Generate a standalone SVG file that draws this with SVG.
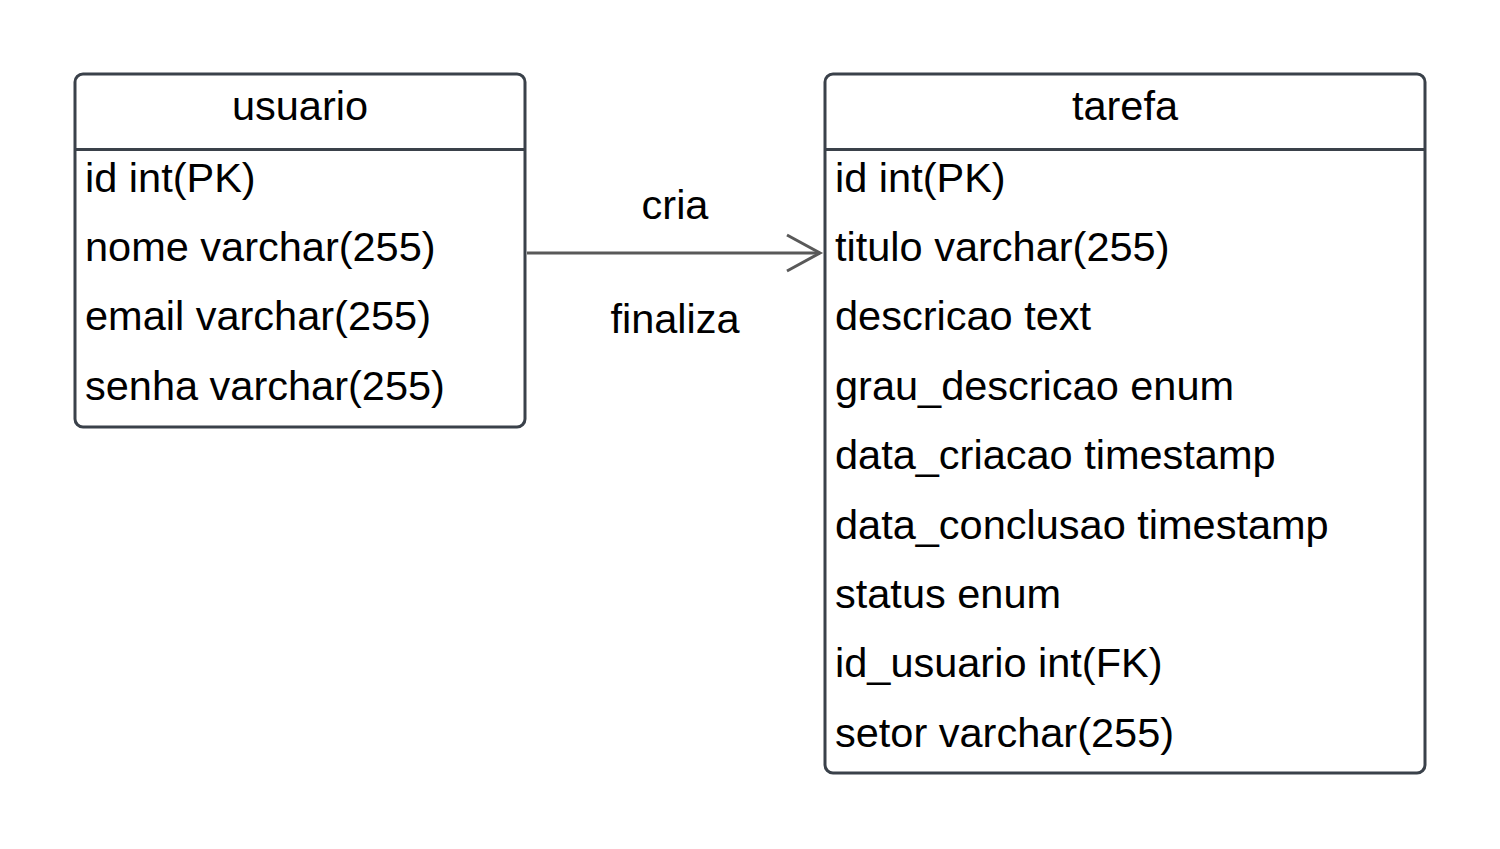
<svg xmlns="http://www.w3.org/2000/svg" width="1500" height="849" viewBox="0 0 1500 849">
<style>
.box{fill:#ffffff;stroke:#3a414a;stroke-width:3}
.div{stroke:#3a414a;stroke-width:3}
.t{font-family:"Liberation Sans",Arial,sans-serif;font-size:41.5px;fill:#000000}
.c{text-anchor:middle}
.conn{stroke:#595959;stroke-width:3;fill:none}
</style>
<rect width="1500" height="849" fill="#ffffff"/>
<g id="usuario">
<rect class="box" x="75" y="74" width="450" height="353" rx="8"/>
<line class="div" x1="75" y1="149.5" x2="525" y2="149.5"/>
<text class="t c" x="300" y="120">usuario</text>
<text class="t" x="85" y="191.5">id int(PK)</text>
<text class="t" x="85" y="261">nome varchar(255)</text>
<text class="t" x="85" y="330.3">email varchar(255)</text>
<text class="t" x="85" y="399.7">senha varchar(255)</text>
</g>
<g id="tarefa">
<rect class="box" x="825" y="74" width="600" height="699" rx="8"/>
<line class="div" x1="825" y1="149.5" x2="1425" y2="149.5"/>
<text class="t c" x="1125" y="120">tarefa</text>
<text class="t" x="835" y="191.5">id int(PK)</text>
<text class="t" x="835" y="261">titulo varchar(255)</text>
<text class="t" x="835" y="330.3">descricao text</text>
<text class="t" x="835" y="399.7">grau_descricao enum</text>
<text class="t" x="835" y="469.1">data_criacao timestamp</text>
<text class="t" x="835" y="538.5">data_conclusao timestamp</text>
<text class="t" x="835" y="607.9">status enum</text>
<text class="t" x="835" y="677.3">id_usuario int(FK)</text>
<text class="t" x="835" y="746.7">setor varchar(255)</text>
</g>
<g id="connectors">
<line class="conn" x1="527" y1="253" x2="820" y2="253"/>
<polyline class="conn" points="787,235 820,253 787,271"/>
<text class="t c" x="675" y="219.3">cria</text>
<text class="t c" x="675" y="332.7">finaliza</text>
</g>
</svg>
